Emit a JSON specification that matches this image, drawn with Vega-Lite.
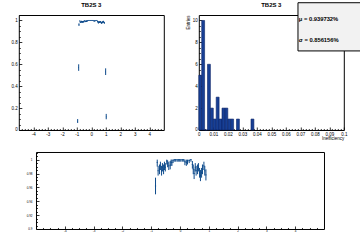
{
  "$schema": "https://vega.github.io/schema/vega-lite/v6.json",
  "padding": {"left": 9.8, "top": 1, "right": 0, "bottom": 0},
  "background": "white",
  "datasets": {
    "eff": [
      {"x": -0.85, "y": 0.962, "ylo": 0.950, "yhi": 0.974, "xlo": -0.87, "xhi": -0.83},
      {"x": -0.79, "y": 0.996, "ylo": 0.990, "yhi": 1.0, "xlo": -0.81, "xhi": -0.77},
      {"x": -0.76, "y": 0.984, "ylo": 0.977, "yhi": 0.991, "xlo": -0.78, "xhi": -0.74},
      {"x": -0.71, "y": 0.986, "ylo": 0.979, "yhi": 0.993, "xlo": -0.73, "xhi": -0.69},
      {"x": -0.68, "y": 0.991, "ylo": 0.985, "yhi": 0.997, "xlo": -0.70, "xhi": -0.66},
      {"x": -0.64, "y": 0.984, "ylo": 0.977, "yhi": 0.991, "xlo": -0.66, "xhi": -0.62},
      {"x": -0.61, "y": 0.989, "ylo": 0.983, "yhi": 0.995, "xlo": -0.63, "xhi": -0.59},
      {"x": -0.57, "y": 0.986, "ylo": 0.979, "yhi": 0.993, "xlo": -0.59, "xhi": -0.55},
      {"x": -0.54, "y": 0.991, "ylo": 0.985, "yhi": 0.997, "xlo": -0.56, "xhi": -0.52},
      {"x": -0.51, "y": 0.989, "ylo": 0.983, "yhi": 0.995, "xlo": -0.53, "xhi": -0.49},
      {"x": -0.46, "y": 0.998, "ylo": 0.993, "yhi": 1.0, "xlo": -0.48, "xhi": -0.44},
      {"x": -0.43, "y": 0.994, "ylo": 0.989, "yhi": 0.999, "xlo": -0.45, "xhi": -0.41},
      {"x": -0.39, "y": 0.991, "ylo": 0.985, "yhi": 0.997, "xlo": -0.41, "xhi": -0.37},
      {"x": -0.34, "y": 0.992, "ylo": 0.986, "yhi": 0.998, "xlo": -0.36, "xhi": -0.32},
      {"x": -0.31, "y": 0.996, "ylo": 0.991, "yhi": 1.0, "xlo": -0.33, "xhi": -0.29},
      {"x": -0.28, "y": 0.996, "ylo": 0.991, "yhi": 1.0, "xlo": -0.30, "xhi": -0.26},
      {"x": -0.24, "y": 0.999, "ylo": 0.995, "yhi": 1.0, "xlo": -0.26, "xhi": -0.22},
      {"x": -0.20, "y": 1.0, "ylo": 0.997, "yhi": 1.0, "xlo": -0.22, "xhi": -0.175},
      {"x": -0.15, "y": 1.0, "ylo": 0.997, "yhi": 1.0, "xlo": -0.175, "xhi": -0.125},
      {"x": -0.10, "y": 1.0, "ylo": 0.997, "yhi": 1.0, "xlo": -0.125, "xhi": -0.08},
      {"x": -0.06, "y": 1.0, "ylo": 0.997, "yhi": 1.0, "xlo": -0.08, "xhi": -0.035},
      {"x": -0.01, "y": 1.0, "ylo": 0.997, "yhi": 1.0, "xlo": -0.035, "xhi": 0.01},
      {"x": 0.03, "y": 1.0, "ylo": 0.997, "yhi": 1.0, "xlo": 0.01, "xhi": 0.055},
      {"x": 0.08, "y": 1.0, "ylo": 0.997, "yhi": 1.0, "xlo": 0.055, "xhi": 0.105},
      {"x": 0.13, "y": 1.0, "ylo": 0.997, "yhi": 1.0, "xlo": 0.105, "xhi": 0.15},
      {"x": 0.17, "y": 0.997, "ylo": 0.992, "yhi": 1.0, "xlo": 0.15, "xhi": 0.195},
      {"x": 0.22, "y": 0.996, "ylo": 0.991, "yhi": 1.0, "xlo": 0.195, "xhi": 0.24},
      {"x": 0.26, "y": 0.998, "ylo": 0.993, "yhi": 1.0, "xlo": 0.24, "xhi": 0.29},
      {"x": 0.32, "y": 0.999, "ylo": 0.995, "yhi": 1.0, "xlo": 0.29, "xhi": 0.35},
      {"x": 0.38, "y": 1.0, "ylo": 0.997, "yhi": 1.0, "xlo": 0.35, "xhi": 0.405},
      {"x": 0.43, "y": 0.993, "ylo": 0.987, "yhi": 0.998, "xlo": 0.41, "xhi": 0.445},
      {"x": 0.46, "y": 0.986, "ylo": 0.979, "yhi": 0.993, "xlo": 0.445, "xhi": 0.475},
      {"x": 0.49, "y": 0.980, "ylo": 0.972, "yhi": 0.987, "xlo": 0.475, "xhi": 0.51},
      {"x": 0.53, "y": 0.989, "ylo": 0.983, "yhi": 0.995, "xlo": 0.51, "xhi": 0.545},
      {"x": 0.56, "y": 0.984, "ylo": 0.977, "yhi": 0.991, "xlo": 0.545, "xhi": 0.585},
      {"x": 0.61, "y": 0.986, "ylo": 0.979, "yhi": 0.993, "xlo": 0.59, "xhi": 0.625},
      {"x": 0.64, "y": 0.989, "ylo": 0.983, "yhi": 0.995, "xlo": 0.625, "xhi": 0.66},
      {"x": 0.68, "y": 0.981, "ylo": 0.974, "yhi": 0.988, "xlo": 0.66, "xhi": 0.695},
      {"x": 0.71, "y": 0.977, "ylo": 0.969, "yhi": 0.985, "xlo": 0.695, "xhi": 0.73},
      {"x": 0.75, "y": 0.981, "ylo": 0.974, "yhi": 0.988, "xlo": 0.73, "xhi": 0.765},
      {"x": 0.78, "y": 0.986, "ylo": 0.979, "yhi": 0.993, "xlo": 0.765, "xhi": 0.805},
      {"x": 0.83, "y": 0.991, "ylo": 0.985, "yhi": 0.997, "xlo": 0.81, "xhi": 0.845},
      {"x": 0.86, "y": 0.984, "ylo": 0.977, "yhi": 0.991, "xlo": 0.845, "xhi": 0.88},
      {"x": 0.90, "y": 0.978, "ylo": 0.970, "yhi": 0.986, "xlo": 0.88, "xhi": 0.92},
      {"x": -0.87, "y": 0.57, "ylo": 0.54, "yhi": 0.60, "xlo": -0.89, "xhi": -0.85},
      {"x": -0.94, "y": 0.08, "ylo": 0.064, "yhi": 0.10, "xlo": -0.96, "xhi": -0.92},
      {"x": 0.99, "y": 0.53, "ylo": 0.502, "yhi": 0.563, "xlo": 0.97, "xhi": 1.01},
      {"x": 1.03, "y": 0.12, "ylo": 0.098, "yhi": 0.147, "xlo": 1.01, "xhi": 1.05}
    ],
    "hist": [
      {"lo": 0.000, "hi": 0.002, "n": 5},
      {"lo": 0.002, "hi": 0.004, "n": 10},
      {"lo": 0.004, "hi": 0.006, "n": 0},
      {"lo": 0.006, "hi": 0.008, "n": 6},
      {"lo": 0.008, "hi": 0.010, "n": 2},
      {"lo": 0.010, "hi": 0.012, "n": 1},
      {"lo": 0.012, "hi": 0.014, "n": 3},
      {"lo": 0.014, "hi": 0.016, "n": 1},
      {"lo": 0.016, "hi": 0.018, "n": 2},
      {"lo": 0.018, "hi": 0.020, "n": 2},
      {"lo": 0.020, "hi": 0.022, "n": 1},
      {"lo": 0.022, "hi": 0.024, "n": 1},
      {"lo": 0.026, "hi": 0.028, "n": 1},
      {"lo": 0.036, "hi": 0.038, "n": 1}
    ]
  },
  "config": {
    "view": {"stroke": "black", "strokeWidth": 1},
    "font": "Liberation Sans",
    "axis": {
      "grid": false, "domain": false, "tickColor": "black", "tickWidth": 0.8,
      "labelColor": "black", "labelFont": "Liberation Sans", "labelFontSize": 4.5,
      "tickSize": -3, "labelPadding": 4.5, "labelOverlap": false, "labelFlush": false,
      "labelExpr": "'' + datum.value",
      "titleFont": "Liberation Sans", "titleFontWeight": "normal", "titleColor": "black", "titleFontSize": 4.5
    },
    "title": {"font": "Liberation Sans", "fontSize": 6, "fontWeight": "bold", "color": "black", "offset": 7}
  },
  "spacing": 8,
  "vconcat": [
    {
      "bounds": "flush",
      "spacing": 35,
      "hconcat": [
        {
          "width": 145, "height": 115,
          "title": {"text": "TB2S 3"},
          "data": {"name": "eff"},
          "layer": [
            {
              "mark": {"type": "rule", "color": "#0d4a8c", "strokeWidth": 1},
              "encoding": {
                "x": {"field": "x", "type": "quantitative", "scale": {"domain": [-5, 5], "nice": false, "zero": false},
                      "axis": {"values": [-4, -3, -2, -1, 0, 1, 2, 3, 4], "orient": "bottom", "title": null}},
                "y": {"field": "ylo", "type": "quantitative", "scale": {"domain": [0, 1.05], "nice": false},
                      "axis": {"values": [0, 0.2, 0.4, 0.6, 0.8, 1], "orient": "left", "title": null}},
                "y2": {"field": "yhi"}
              }
            },
            {
              "mark": {"type": "rule", "color": "#0d4a8c", "strokeWidth": 1},
              "encoding": {
                "x": {"field": "xlo", "type": "quantitative", "axis": null},
                "x2": {"field": "xhi"},
                "y": {"field": "y", "type": "quantitative", "axis": null}
              }
            },
            {
              "mark": {"type": "point", "opacity": 0},
              "encoding": {
                "x": {"field": "x", "type": "quantitative",
                      "axis": {"orient": "bottom", "labels": false, "tickSize": -1.5, "title": null,
                               "values": [-4.8,-4.6,-4.4,-4.2,-3.8,-3.6,-3.4,-3.2,-2.8,-2.6,-2.4,-2.2,-1.8,-1.6,-1.4,-1.2,-0.8,-0.6,-0.4,-0.2,0.2,0.4,0.6,0.8,1.2,1.4,1.6,1.8,2.2,2.4,2.6,2.8,3.2,3.4,3.6,3.8,4.2,4.4,4.6,4.8]}},
                "y": {"field": "y", "type": "quantitative",
                      "axis": {"orient": "left", "labels": false, "tickSize": -1.5, "title": null,
                               "values": [0.05,0.1,0.15,0.25,0.3,0.35,0.45,0.5,0.55,0.65,0.7,0.75,0.85,0.9,0.95,1.05]}}
              }
            }
          ],
          "resolve": {"axis": {"x": "independent", "y": "independent"}}
        },
        {
          "width": 145, "height": 115,
          "data": {"name": "hist"},
          "layer": [
            {
              "mark": {"type": "rect", "fill": "#173f95", "stroke": "#0c2466", "strokeWidth": 0.6},
              "encoding": {
                "x": {"field": "lo", "type": "quantitative", "scale": {"domain": [0, 0.1], "nice": false, "zero": false},
                      "axis": {"values": [0, 0.01, 0.02, 0.03, 0.04, 0.05, 0.06, 0.07, 0.08, 0.09, 0.1], "orient": "bottom",
                               "title": "Inefficiency", "titleAnchor": "end", "titlePadding": 0}},
                "x2": {"field": "hi"},
                "y": {"field": "n", "type": "quantitative", "scale": {"domain": [0, 10.5], "nice": false},
                      "axis": {"values": [0, 2, 4, 6, 8, 10], "orient": "left", "title": "Entries", "titleAnchor": "end", "titlePadding": 2}},
                "y2": {"datum": 0}
              }
            },
            {
              "mark": {"type": "point", "opacity": 0},
              "encoding": {
                "x": {"field": "lo", "type": "quantitative",
                      "axis": {"orient": "bottom", "labels": false, "tickSize": -1.5, "title": null,
                               "values": [0.002,0.004,0.006,0.008,0.012,0.014,0.016,0.018,0.022,0.024,0.026,0.028,0.032,0.034,0.036,0.038,0.042,0.044,0.046,0.048,0.052,0.054,0.056,0.058,0.062,0.064,0.066,0.068,0.072,0.074,0.076,0.078,0.082,0.084,0.086,0.088,0.092,0.094,0.096,0.098]}},
                "y": {"field": "n", "type": "quantitative",
                      "axis": {"orient": "left", "labels": false, "tickSize": -1.5, "title": null,
                               "values": [0.5,1,1.5,2.5,3,3.5,4.5,5,5.5,6.5,7,7.5,8.5,9,9.5]}}
              }
            },
            {
              "data": {"values": [{"label": "TB2S 3"}]},
              "mark": {"type": "text", "align": "center", "baseline": "bottom", "fontSize": 6, "fontWeight": "bold", "color": "black", "font": "Liberation Sans"},
              "encoding": {
                "x": {"datum": 0.05, "type": "quantitative", "axis": null},
                "y": {"datum": 11.14, "type": "quantitative", "axis": null},
                "text": {"field": "label"}
              }
            },
            {
              "data": {"values": [{}]},
              "mark": {"type": "rect", "fill": "#f2f2f2", "stroke": "black", "strokeWidth": 1},
              "encoding": {
                "x": {"datum": 0.0684, "type": "quantitative", "axis": null},
                "x2": {"datum": 0.1117},
                "y": {"datum": 11.62, "type": "quantitative", "axis": null},
                "y2": {"datum": 7.22}
              }
            },
            {
              "data": {"values": [{"label": "μ = 0.939732%"}]},
              "mark": {"type": "text", "align": "left", "baseline": "middle", "fontSize": 5.8, "fontWeight": "bold", "color": "black", "font": "Liberation Sans"},
              "encoding": {
                "x": {"datum": 0.069, "type": "quantitative", "axis": null},
                "y": {"datum": 10.13, "type": "quantitative", "axis": null},
                "text": {"field": "label"}
              }
            },
            {
              "data": {"values": [{"label": "σ = 0.856156%"}]},
              "mark": {"type": "text", "align": "left", "baseline": "middle", "fontSize": 5.8, "fontWeight": "bold", "color": "black", "font": "Liberation Sans"},
              "encoding": {
                "x": {"datum": 0.069, "type": "quantitative", "axis": null},
                "y": {"datum": 8.2, "type": "quantitative", "axis": null},
                "text": {"field": "label"}
              }
            }
          ],
          "resolve": {"axis": {"x": "independent", "y": "independent"}}
        }
      ]
    },
    {
      "bounds": "flush",
      "spacing": 16.2,
      "hconcat": [
        {
          "width": 1, "height": 1,
          "view": {"stroke": null},
          "data": {"values": [{}]},
          "mark": {"type": "point", "opacity": 0},
          "encoding": {}
        },
        {
          "width": 288, "height": 77,
          "data": {"name": "eff"},
          "layer": [
            {
              "mark": {"type": "rule", "color": "#0d4a8c", "strokeWidth": 1, "clip": true},
              "encoding": {
                "x": {"field": "x", "type": "quantitative", "scale": {"domain": [-5, 5], "nice": false, "zero": false},
                      "axis": {"values": [-4, -3, -2, -1, 0, 1, 2, 3, 4], "orient": "bottom", "title": null, "labelFontSize": 3, "labelPadding": 4}},
                "y": {"field": "ylo", "type": "quantitative", "scale": {"domain": [0.9, 1.011], "nice": false, "zero": false},
                      "axis": {"values": [0.9, 0.92, 0.94, 0.96, 0.98, 1], "orient": "left", "title": null, "labelFontSize": 3, "labelPadding": 7}},
                "y2": {"field": "yhi"}
              }
            },
            {
              "mark": {"type": "rule", "color": "#0d4a8c", "strokeWidth": 1, "clip": true},
              "encoding": {
                "x": {"field": "xlo", "type": "quantitative", "axis": null},
                "x2": {"field": "xhi"},
                "y": {"field": "y", "type": "quantitative", "axis": null}
              }
            },
            {
              "mark": {"type": "point", "opacity": 0, "clip": true},
              "encoding": {
                "x": {"field": "x", "type": "quantitative",
                      "axis": {"orient": "bottom", "labels": false, "tickSize": -1.5, "title": null,
                               "values": [-4.75,-4.5,-4.25,-3.75,-3.5,-3.25,-2.75,-2.5,-2.25,-1.75,-1.5,-1.25,-0.75,-0.5,-0.25,0.25,0.5,0.75,1.25,1.5,1.75,2.25,2.5,2.75,3.25,3.5,3.75,4.25,4.5,4.75]}},
                "y": {"field": "y", "type": "quantitative",
                      "axis": {"orient": "left", "labels": false, "tickSize": -1.5, "title": null,
                               "values": [0.905,0.91,0.915,0.925,0.93,0.935,0.945,0.95,0.955,0.965,0.97,0.975,0.985,0.99,0.995,1.005,1.01]}}
              }
            }
          ],
          "resolve": {"axis": {"x": "independent", "y": "independent"}}
        }
      ]
    }
  ]
}
